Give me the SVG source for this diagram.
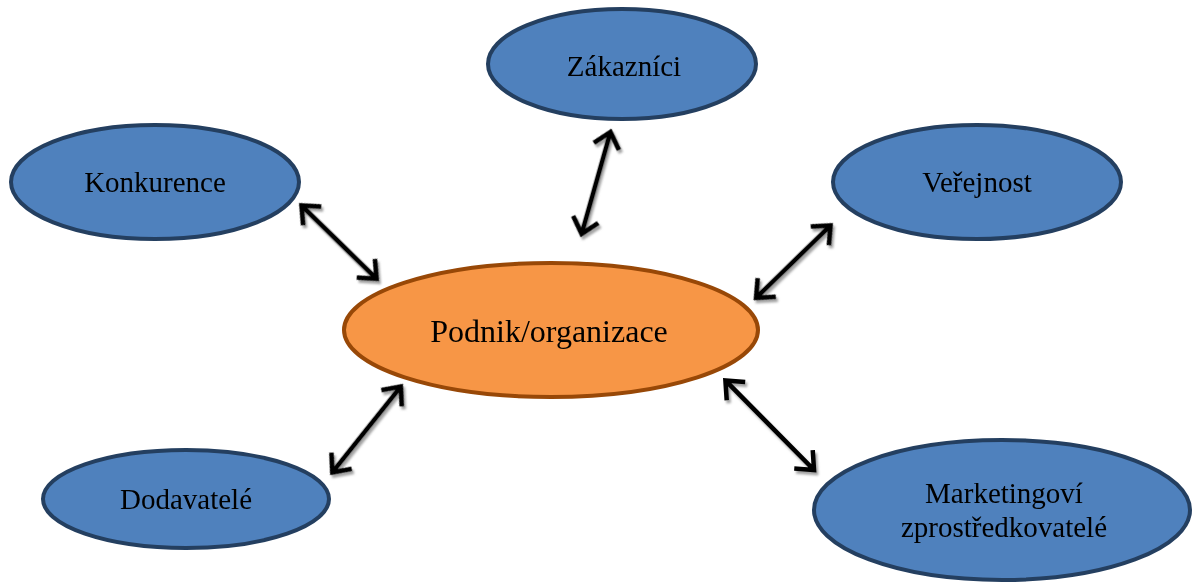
<svg xmlns="http://www.w3.org/2000/svg" width="1192" height="583" viewBox="0 0 1192 583">
<style>
.blue{fill:#4f81bd;stroke:#243f60;stroke-width:4}
.orange{fill:#f79646;stroke:#984807;stroke-width:4}
.a{stroke:#000;stroke-width:4.5;fill:none;stroke-linecap:butt;stroke-linejoin:miter}
.s{stroke:#8c8c8c;stroke-width:4.5;fill:none;opacity:0.8}
</style>
<defs>
<filter id="bl" x="-20%" y="-20%" width="140%" height="140%"><feGaussianBlur stdDeviation="1"/></filter>
</defs>
<g id="connectors">
<g filter="url(#bl)" transform="translate(2,3)">
<path class="s" transform="translate(300,204) rotate(44.3)" d="M3,0 L106,0 M17,-13 L2,0 L17,13 M92,-13 L107,0 L92,13"/>
<path class="s" transform="translate(611,130) rotate(105.8)" d="M3,0 L107,0 M17,-13 L2,0 L17,13 M93,-13 L108,0 L93,13"/>
<path class="s" transform="translate(832,224) rotate(135.8)" d="M3,0 L105,0 M17,-13 L2,0 L17,13 M91,-13 L106,0 L91,13"/>
<path class="s" transform="translate(331,474) rotate(-51.4)" d="M3,0 L111,0 M17,-13 L2,0 L17,13 M97,-13 L112,0 L97,13"/>
<path class="s" transform="translate(724,379) rotate(45.3)" d="M3,0 L127,0 M17,-13 L2,0 L17,13 M113,-13 L128,0 L113,13"/>
</g>
<path class="a" transform="translate(300,204) rotate(44.3)" d="M3,0 L106,0 M17,-13 L2,0 L17,13 M92,-13 L107,0 L92,13"/>
<path class="a" transform="translate(611,130) rotate(105.8)" d="M3,0 L107,0 M17,-13 L2,0 L17,13 M93,-13 L108,0 L93,13"/>
<path class="a" transform="translate(832,224) rotate(135.8)" d="M3,0 L105,0 M17,-13 L2,0 L17,13 M91,-13 L106,0 L91,13"/>
<path class="a" transform="translate(331,474) rotate(-51.4)" d="M3,0 L111,0 M17,-13 L2,0 L17,13 M97,-13 L112,0 L97,13"/>
<path class="a" transform="translate(724,379) rotate(45.3)" d="M3,0 L127,0 M17,-13 L2,0 L17,13 M113,-13 L128,0 L113,13"/>
</g>
<g id="zakaznici">
<ellipse class="blue" cx="622" cy="64" rx="134" ry="55"/>
<text x="624" y="76" font-family="Liberation Serif, Times New Roman, serif" font-size="29" text-anchor="middle">Zákazníci</text>
</g>
<g id="konkurence">
<ellipse class="blue" cx="155" cy="182" rx="144" ry="57"/>
<text x="155" y="192" font-family="Liberation Serif, Times New Roman, serif" font-size="29" text-anchor="middle">Konkurence</text>
</g>
<g id="verejnost">
<ellipse class="blue" cx="977" cy="182" rx="144" ry="57"/>
<text x="977" y="192" font-family="Liberation Serif, Times New Roman, serif" font-size="29" text-anchor="middle">Veřejnost</text>
</g>
<g id="podnik">
<ellipse class="orange" cx="551" cy="330" rx="207" ry="67"/>
<text x="549" y="342" font-family="Liberation Serif, Times New Roman, serif" font-size="32" text-anchor="middle">Podnik/organizace</text>
</g>
<g id="dodavatele">
<ellipse class="blue" cx="186" cy="499" rx="143" ry="49"/>
<text x="186" y="509" font-family="Liberation Serif, Times New Roman, serif" font-size="29" text-anchor="middle">Dodavatelé</text>
</g>
<g id="marketing">
<ellipse class="blue" cx="1002" cy="510" rx="188" ry="70"/>
<text x="1004" y="503" font-family="Liberation Serif, Times New Roman, serif" font-size="29" text-anchor="middle">Marketingoví</text>
<text x="1004" y="537" font-family="Liberation Serif, Times New Roman, serif" font-size="29" text-anchor="middle">zprostředkovatelé</text>
</g>
</svg>
